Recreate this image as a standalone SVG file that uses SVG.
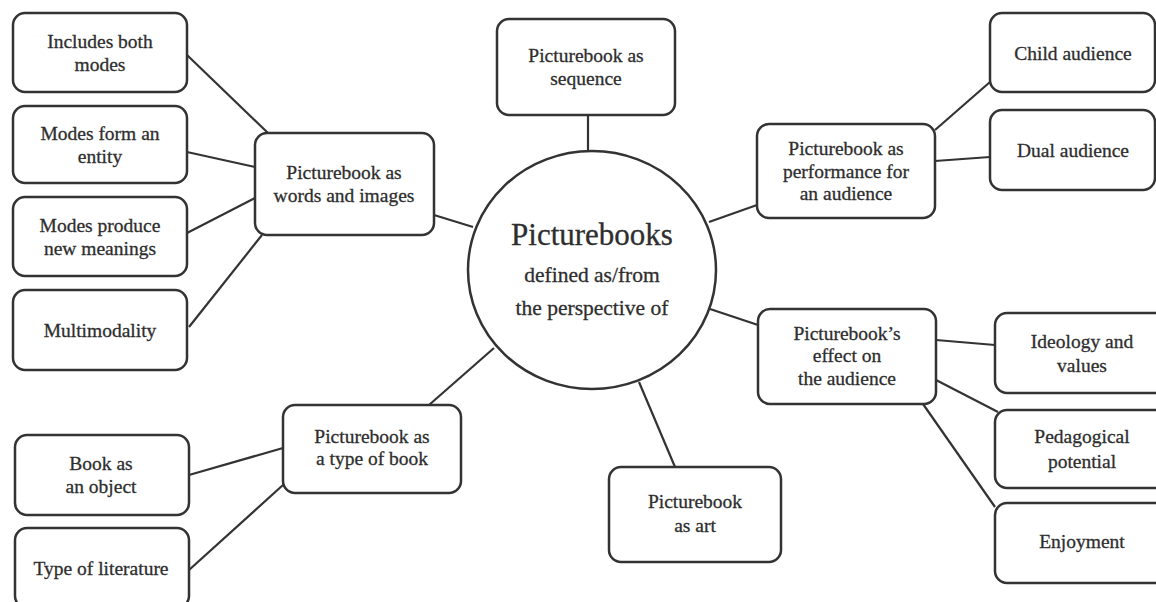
<svg xmlns="http://www.w3.org/2000/svg" width="1156" height="602" viewBox="0 0 1156 602">
<style>
.box{fill:#fff;stroke:#333;stroke-width:2.5}
.hub{fill:#fff;stroke:#333;stroke-width:2.5}
.edge{stroke:#333;stroke-width:2.2;fill:none}
text{font-family:"Liberation Serif","Times New Roman",serif;fill:#2e2e2e;stroke:#2e2e2e;stroke-width:0.3;text-anchor:middle}
.t{font-size:19.5px}
.big{font-size:31px}
.sub{font-size:21.5px}
</style>
<rect width="1156" height="602" fill="#fff"/>
<g id="connectors">
<line class="edge" x1="187" y1="55" x2="268" y2="133"/>
<line class="edge" x1="187" y1="152" x2="255" y2="167"/>
<line class="edge" x1="187" y1="233" x2="255" y2="198"/>
<line class="edge" x1="189" y1="327" x2="262" y2="235"/>
<line class="edge" x1="434" y1="215" x2="473" y2="227"/>
<line class="edge" x1="588" y1="115" x2="588" y2="152"/>
<line class="edge" x1="709" y1="222" x2="757" y2="205"/>
<line class="edge" x1="935" y1="130" x2="990" y2="82"/>
<line class="edge" x1="935" y1="161" x2="990" y2="157"/>
<line class="edge" x1="710" y1="309" x2="758" y2="325"/>
<line class="edge" x1="936" y1="340" x2="995" y2="345"/>
<line class="edge" x1="936" y1="380" x2="998" y2="412"/>
<line class="edge" x1="923" y1="404" x2="995" y2="507"/>
<line class="edge" x1="639" y1="382" x2="675" y2="467"/>
<line class="edge" x1="494" y1="348" x2="429" y2="405"/>
<line class="edge" x1="189" y1="475" x2="283" y2="448"/>
<line class="edge" x1="189" y1="570" x2="283" y2="485"/>
</g>
<g id="hub">
<ellipse class="hub" cx="592" cy="270" rx="124" ry="119"/>
<text class="big" x="592" y="245">Picturebooks</text>
<text class="sub" x="592" y="282">defined as/from</text>
<text class="sub" x="592" y="315">the perspective of</text>
</g>
<g id="includes-both">
<rect class="box" x="13" y="13" width="174" height="79" rx="12"/>
<text class="t" x="100" y="48">Includes both</text>
<text class="t" x="100" y="71">modes</text>
</g>
<g id="modes-entity">
<rect class="box" x="13" y="106" width="174" height="77" rx="12"/>
<text class="t" x="100" y="140">Modes form an</text>
<text class="t" x="100" y="163">entity</text>
</g>
<g id="modes-meanings">
<rect class="box" x="13" y="197" width="174" height="79" rx="12"/>
<text class="t" x="100" y="232">Modes produce</text>
<text class="t" x="100" y="255">new meanings</text>
</g>
<g id="multimodality">
<rect class="box" x="13" y="290" width="174" height="80" rx="12"/>
<text class="t" x="100" y="337">Multimodality</text>
</g>
<g id="words-images">
<rect class="box" x="255" y="133" width="179" height="102" rx="12"/>
<text class="t" x="344" y="179">Picturebook as</text>
<text class="t" x="344" y="202">words and images</text>
</g>
<g id="sequence">
<rect class="box" x="497" y="19" width="178" height="96" rx="12"/>
<text class="t" x="586" y="62">Picturebook as</text>
<text class="t" x="586" y="85">sequence</text>
</g>
<g id="performance">
<rect class="box" x="757" y="124" width="178" height="94" rx="12"/>
<text class="t" x="846" y="155">Picturebook as</text>
<text class="t" x="846" y="178">performance for</text>
<text class="t" x="846" y="200">an audience</text>
</g>
<g id="child-audience">
<rect class="box" x="990" y="13" width="165" height="79" rx="12"/>
<text class="t" x="1073" y="60">Child audience</text>
</g>
<g id="dual-audience">
<rect class="box" x="990" y="110" width="165" height="80" rx="12"/>
<text class="t" x="1073" y="157">Dual audience</text>
</g>
<g id="effect">
<rect class="box" x="758" y="309" width="178" height="95" rx="12"/>
<text class="t" x="847" y="340">Picturebook’s</text>
<text class="t" x="847" y="362">effect on</text>
<text class="t" x="847" y="385">the audience</text>
</g>
<g id="ideology">
<rect class="box" x="995" y="313" width="175" height="80" rx="12"/>
<text class="t" x="1082" y="348">Ideology and</text>
<text class="t" x="1082" y="372">values</text>
</g>
<g id="pedagogical">
<rect class="box" x="995" y="410" width="175" height="78" rx="12"/>
<text class="t" x="1082" y="443">Pedagogical</text>
<text class="t" x="1082" y="468">potential</text>
</g>
<g id="enjoyment">
<rect class="box" x="995" y="503" width="175" height="80" rx="12"/>
<text class="t" x="1082" y="548">Enjoyment</text>
</g>
<g id="art">
<rect class="box" x="609" y="467" width="172" height="95" rx="12"/>
<text class="t" x="695" y="508">Picturebook</text>
<text class="t" x="695" y="532">as art</text>
</g>
<g id="type-of-book">
<rect class="box" x="283" y="405" width="178" height="88" rx="12"/>
<text class="t" x="372" y="443">Picturebook as</text>
<text class="t" x="372" y="465">a type of book</text>
</g>
<g id="book-object">
<rect class="box" x="15" y="435" width="174" height="80" rx="12"/>
<text class="t" x="101" y="470">Book as</text>
<text class="t" x="101" y="493">an object</text>
</g>
<g id="type-literature">
<rect class="box" x="15" y="528" width="174" height="80" rx="12"/>
<text class="t" x="101" y="575">Type of literature</text>
</g>
</svg>
